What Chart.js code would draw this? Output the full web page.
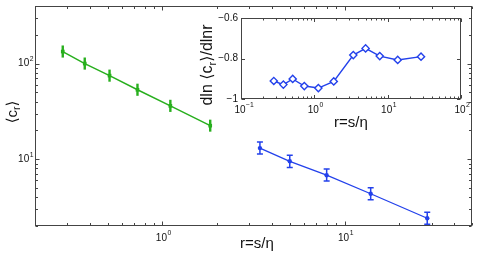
<!DOCTYPE html>
<html><head><meta charset="utf-8">
<script src="https://cdn.jsdelivr.net/npm/chart.js@4"></script>
<style>
html,body{margin:0;padding:0;background:#fff;}
#wrap{position:relative;width:485px;height:257px;}
canvas{position:absolute;left:0;top:0;}
</style></head>
<body><div id="wrap"><canvas id="main" width="485" height="257"></canvas><canvas id="inset" width="485" height="257"></canvas></div>
<script>
// ---- data ----
const greenX = [0.284, 0.375, 0.513, 0.730, 1.106, 1.83];
const greenY = [133.6, 100, 74.8, 53.2, 36.1, 22.4];
const greenLo = [115.5, 86.4, 64.6, 46.0, 31.2, 19.4];
const greenHi = [154.6, 115.7, 86.5, 61.6, 41.8, 25.9];
const blueX = [3.43, 5.0, 7.97, 13.9, 28.4];
const blueY = [13.06, 9.5, 6.8, 4.35, 2.41];
const blueLo = [11.3, 8.2, 5.9, 3.76, 2.08];
const blueHi = [15.1, 11.0, 7.9, 5.03, 2.79];
const insetX = [0.28, 0.378, 0.507, 0.73, 1.135, 1.84, 3.4, 5.0, 7.8, 13.7, 28.5];
const insetY = [-0.911, -0.929, -0.901, -0.936, -0.946, -0.913, -0.783, -0.75, -0.788, -0.807, -0.791];
const mainXTicks = [1, 10];
const mainYTicks = [10, 100];
const insetXTicks = [0.1, 1, 10, 100];
const insetYTicks = [-1, -0.8, -0.6];
const xTitle = 'r=s/η';

const GREEN = 'rgb(40,175,30)';
const BLUE = 'rgb(35,65,235)';
const AX = '#444';
const FONT = '"Liberation Sans", Arial, "DejaVu Sans", sans-serif';

function pts(xs, ys){ return xs.map((x,i)=>({x:x, y:ys[i]})); }

function logMinor(min, max){
  const out=[];
  for(let d=Math.floor(Math.log10(min)); d<=Math.ceil(Math.log10(max)); d++){
    for(let m=1;m<=9;m++){
      const v=m*Math.pow(10,d);
      if(v>=min*0.9999 && v<=max*1.0001) out.push({v:v, major:m===1});
    }
  }
  return out;
}
function exp10(v){ return Math.round(Math.log10(v)); }
function drawPow(ctx, x, y, e, align, size){
  const base='10', sup=(e<0?'−':'')+Math.abs(e);
  ctx.font = size+'px '+FONT;
  const bw = ctx.measureText(base).width;
  ctx.font = (size*0.68)+'px '+FONT;
  const sw = ctx.measureText(sup).width;
  let bx;
  if(align==='center') bx = x - bw/2;
  else bx = x - bw - sw;
  ctx.fillStyle='#111';
  ctx.textAlign='left'; ctx.textBaseline='middle';
  ctx.font = size+'px '+FONT;
  ctx.fillText(base, bx, y);
  ctx.font = (size*0.68)+'px '+FONT;
  ctx.fillText(sup, bx+bw+0.5, y - size*0.45);
}

const deco = {
  id:'deco',
  beforeDraw(chart, args, o){
    if(o.fillArea){
      const a=chart.chartArea, c=chart.ctx;
      c.save(); c.fillStyle='#fff'; c.fillRect(a.left,a.top,a.right-a.left,a.bottom-a.top); c.restore();
    }
  },
  afterDatasetsDraw(chart, args, o){
    const c=chart.ctx;
    chart.data.datasets.forEach((ds,di)=>{
      if(!ds.errLo) return;
      const xs=chart.scales.x, ys=chart.scales.y;
      c.save(); c.strokeStyle=ds.borderColor; c.lineWidth=ds.errWidth;
      ds.data.forEach((p,i)=>{
        const px=xs.getPixelForValue(p.x);
        const y1=ys.getPixelForValue(ds.errLo[i]), y2=ys.getPixelForValue(ds.errHi[i]);
        c.beginPath(); c.moveTo(px,y1); c.lineTo(px,y2);
        if(ds.errCap){ c.moveTo(px-ds.errCap,y1); c.lineTo(px+ds.errCap,y1); c.moveTo(px-ds.errCap,y2); c.lineTo(px+ds.errCap,y2); }
        c.stroke();
      });
      c.restore();
    });
  },
  afterDraw(chart, args, o){
    const c=chart.ctx, a=chart.chartArea, xs=chart.scales.x, ys=chart.scales.y;
    c.save();
    c.strokeStyle=AX; c.lineWidth=1;
    c.strokeRect(Math.round(a.left)+0.5, Math.round(a.top)+0.5, Math.round(a.right-a.left)-1, Math.round(a.bottom-a.top)-1);
    c.beginPath();
    const L=a.left+0.5, R=a.right-0.5, T=a.top+0.5, B=a.bottom-0.5;
    let xt = xs.type==='logarithmic' ? logMinor(xs.min, xs.max) : [];
    xt.forEach(t=>{
      const px=Math.round(xs.getPixelForValue(t.v))+0.5, len=t.major?o.major:o.minor;
      c.moveTo(px,B); c.lineTo(px,B-len); c.moveTo(px,T); c.lineTo(px,T+len);
    });
    let yt = ys.type==='logarithmic' ? logMinor(ys.min, ys.max) : o.yTicks.map(v=>({v:v,major:true}));
    yt.forEach(t=>{
      const py=Math.round(ys.getPixelForValue(t.v))+0.5, len=t.major?o.major:o.minor;
      c.moveTo(L,py); c.lineTo(L+len,py); c.moveTo(R,py); c.lineTo(R-len,py);
    });
    c.stroke();
    o.xTicks.forEach(v=>{ drawPow(c, xs.getPixelForValue(v)-1, a.bottom+o.xLabGap, exp10(v), 'center', o.fs); });
    if(ys.type==='logarithmic'){
      o.yTicks.forEach(v=>{ drawPow(c, a.left-2, ys.getPixelForValue(v), exp10(v), 'right', o.fs); });
    } else {
      c.font=o.fs+'px '+FONT; c.fillStyle='#111'; c.textAlign='right'; c.textBaseline='middle';
      o.yTicks.forEach(v=>{ c.fillText((v<0?'−':'')+Math.abs(v).toString(), a.left-3, ys.getPixelForValue(v)); });
    }
    c.font=o.tfs+'px '+FONT; c.fillStyle='#111'; c.textAlign='center'; c.textBaseline='middle';
    c.fillText(xTitle, o.xtX, o.xtY);
    c.translate(o.ytX, o.ytY); c.rotate(-Math.PI/2);
    const parts=o.yParts, fs=o.ytfs; let w=0;
    parts.forEach(p=>{ c.font=(p.sub?fs*0.7:fs)+'px '+FONT; p.w=c.measureText(p.t).width; w+=p.w; });
    let x=-w/2;
    c.textAlign='left';
    parts.forEach(p=>{ c.font=(p.sub?fs*0.7:fs)+'px '+FONT; c.fillText(p.t, x, p.sub? fs*0.3 : 0); x+=p.w; });
    c.restore();
  }
};

Chart.register(deco);

new Chart(document.getElementById('main'), {
  type:'scatter',
  data:{ datasets:[
    { data:pts(greenX, greenY), showLine:true, borderColor:GREEN, backgroundColor:GREEN, borderWidth:1.5,
      pointStyle:'rect', pointRadius:2.6, pointBorderWidth:0, errLo:greenLo, errHi:greenHi, errWidth:2.4, errCap:0 },
    { data:pts(blueX, blueY), showLine:true, borderColor:BLUE, backgroundColor:BLUE, borderWidth:1.3,
      pointStyle:'circle', pointRadius:2.2, pointBorderWidth:0, errLo:blueLo, errHi:blueHi, errWidth:1.5, errCap:3 }
  ]},
  options:{
    responsive:false, animation:false, devicePixelRatio:1,
    layout:{padding:{left:0, right:13, top:6, bottom:0}},
    plugins:{ legend:{display:false}, tooltip:{enabled:false},
      deco:{ major:4, minor:2.5, xTicks:mainXTicks, yTicks:mainYTicks, fs:10, tfs:15, ytfs:15, xLabGap:12,
        xtX:257, xtY:244, ytX:13, ytY:112,
        yParts:[{t:'⟨c'},{t:'r',sub:true},{t:'⟩'}] } },
    scales:{
      x:{ type:'logarithmic', min:0.2, max:50, bounds:'data', grid:{display:false}, border:{display:false}, ticks:{display:false},
          afterFit:s=>{ s.height=31; } },
      y:{ type:'logarithmic', min:2, max:400, bounds:'data', grid:{display:false}, border:{display:false}, ticks:{display:false},
          afterFit:s=>{ s.width=35; } }
    }
  }
});

new Chart(document.getElementById('inset'), {
  type:'scatter',
  data:{ datasets:[
    { data:pts(insetX, insetY), showLine:true, borderColor:BLUE, backgroundColor:'#fff', borderWidth:1.4,
      pointStyle:'rectRot', pointRadius:3.6, pointBorderWidth:1.4 }
  ]},
  options:{
    responsive:false, animation:false, devicePixelRatio:1,
    layout:{padding:{left:241, right:24, top:18, bottom:158}},
    plugins:{ legend:{display:false}, tooltip:{enabled:false},
      deco:{ fillArea:true, major:3.5, minor:2, xTicks:insetXTicks, yTicks:insetYTicks, fs:10, tfs:15, ytfs:16, xLabGap:11,
        xtX:351, xtY:123, ytX:208, ytY:65,
        yParts:[{t:'dln ⟨c'},{t:'r',sub:true},{t:'⟩/dlnr'}] } },
    scales:{
      x:{ type:'logarithmic', min:0.1, max:100, bounds:'data', grid:{display:false}, border:{display:false}, ticks:{display:false},
          afterFit:s=>{ s.height=0; } },
      y:{ type:'linear', min:-1, max:-0.6, bounds:'data', grid:{display:false}, border:{display:false}, ticks:{display:false},
          afterFit:s=>{ s.width=0; } }
    }
  }
});
</script></body></html>
